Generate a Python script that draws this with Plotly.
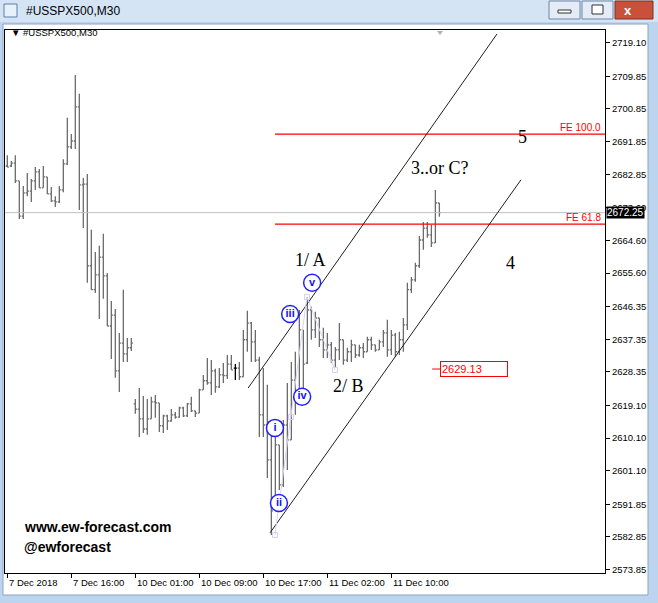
import plotly.graph_objects as go

# ---------------- data ----------------
opens = [2685.1, 2685.1, 2685.9, 2681.0, 2671.3, 2677.7, 2678.2, 2681.0, 2683.5, 2679.1,
         2682.1, 2677.4, 2675.5, 2675.2, 2678.5, 2685.7, 2690.4, 2692.0, 2701.4, 2679.9,
         2680.1, 2657.6, 2651.0, 2655.1, 2660.0, 2654.8, 2641.0, 2644.0, 2628.6, 2636.3,
         2633.3, 2635.0, 2619.5, 2618.1, 2615.4, 2612.6, 2615.4, 2620.1, 2619.8, 2613.5,
         2616.2, 2614.8, 2616.5, 2615.9, 2618.4, 2616.2, 2619.5, 2617.6, 2617.0, 2623.4,
         2625.9, 2625.3, 2628.6, 2624.2, 2627.5, 2627.3, 2630.5, 2629.4, 2629.4, 2627.0,
         2637.2, 2641.8, 2636.6, 2631.6, 2616.5, 2613.7, 2604.1, 2592.0, 2608.2, 2597.2,
         2613.7, 2609.6, 2626.1, 2620.6, 2639.9, 2630.8, 2645.4, 2639.9, 2643.2, 2637.2,
         2634.4, 2635.8, 2631.6, 2634.4, 2637.2, 2631.6, 2633.9, 2635.8, 2633.0, 2635.0,
         2633.9, 2637.2, 2635.8, 2634.4, 2636.6, 2639.1, 2634.4, 2638.5, 2633.9, 2637.2,
         2641.3, 2651.0, 2653.7, 2657.6, 2664.7, 2668.0, 2666.1, 2663.9, 2674.9]
highs = [2688.1, 2686.5, 2688.1, 2681.0, 2679.6, 2683.2, 2681.5, 2684.8, 2684.3, 2685.1,
         2682.1, 2679.3, 2676.8, 2679.6, 2687.0, 2698.4, 2693.9, 2710.2, 2705.0, 2681.8,
         2682.9, 2667.5, 2661.4, 2663.1, 2666.4, 2655.6, 2647.9, 2645.7, 2639.1, 2651.0,
         2637.7, 2637.7, 2620.9, 2623.9, 2621.7, 2620.9, 2621.5, 2622.0, 2619.8, 2616.5,
         2616.5, 2618.1, 2617.3, 2618.7, 2618.7, 2619.8, 2621.5, 2617.6, 2623.7, 2627.5,
         2632.2, 2631.6, 2629.2, 2629.4, 2630.8, 2633.0, 2633.0, 2630.5, 2631.1, 2639.9,
         2645.2, 2642.1, 2639.9, 2632.5, 2629.4, 2624.8, 2614.3, 2611.0, 2608.2, 2615.1,
         2625.3, 2631.1, 2633.9, 2645.4, 2639.9, 2649.0, 2646.3, 2644.9, 2643.2, 2640.5,
         2639.1, 2636.6, 2635.2, 2641.8, 2637.2, 2635.0, 2637.2, 2635.8, 2635.8, 2636.3,
         2638.0, 2638.0, 2635.8, 2637.2, 2639.9, 2642.7, 2639.9, 2639.1, 2639.4, 2643.2,
         2652.9, 2654.5, 2658.4, 2665.8, 2669.7, 2669.7, 2668.9, 2678.5, 2674.9]
lows = [2684.8, 2684.8, 2680.4, 2670.5, 2670.5, 2676.8, 2675.2, 2678.5, 2679.1, 2679.1,
        2677.4, 2675.2, 2673.8, 2674.9, 2677.9, 2685.4, 2689.8, 2689.8, 2673.0, 2668.0,
        2652.9, 2651.0, 2650.1, 2642.9, 2648.5, 2641.0, 2631.9, 2626.7, 2622.8, 2631.1,
        2631.1, 2634.1, 2616.8, 2610.4, 2611.5, 2611.0, 2615.4, 2615.7, 2611.8, 2611.5,
        2612.3, 2614.6, 2615.4, 2615.7, 2615.9, 2615.9, 2617.3, 2615.9, 2617.0, 2623.4,
        2624.8, 2622.0, 2622.6, 2623.9, 2625.3, 2626.4, 2628.9, 2626.1, 2626.1, 2627.0,
        2633.9, 2631.1, 2631.1, 2610.4, 2610.4, 2599.1, 2583.4, 2591.5, 2595.8, 2596.6,
        2601.3, 2609.6, 2616.5, 2620.6, 2623.4, 2630.5, 2637.2, 2637.7, 2635.2, 2632.2,
        2632.2, 2630.8, 2629.7, 2631.6, 2630.3, 2631.1, 2631.1, 2632.2, 2632.5, 2632.2,
        2633.9, 2634.4, 2633.9, 2634.4, 2635.2, 2632.5, 2633.0, 2632.5, 2633.0, 2633.9,
        2639.9, 2650.1, 2653.2, 2657.0, 2662.0, 2665.3, 2662.8, 2663.9, 2671.1]
closes = [2684.8, 2685.9, 2681.0, 2671.3, 2677.7, 2678.2, 2681.0, 2683.5, 2679.1, 2682.1,
          2677.4, 2675.5, 2675.2, 2678.5, 2685.7, 2690.4, 2692.0, 2701.4, 2679.9, 2680.1,
          2657.6, 2651.0, 2655.1, 2660.0, 2654.8, 2641.0, 2644.0, 2628.6, 2636.3, 2633.3,
          2635.0, 2636.3, 2618.1, 2615.4, 2612.6, 2615.4, 2620.1, 2619.8, 2613.5, 2616.2,
          2614.8, 2616.5, 2615.9, 2618.4, 2616.2, 2619.5, 2617.6, 2617.0, 2623.4, 2625.9,
          2625.3, 2628.6, 2624.2, 2627.5, 2627.3, 2630.5, 2628.9, 2629.4, 2627.0, 2637.2,
          2641.8, 2636.6, 2631.6, 2616.5, 2613.7, 2604.1, 2590.0, 2608.2, 2597.2, 2613.7,
          2609.6, 2626.1, 2620.6, 2639.9, 2630.5, 2645.4, 2639.9, 2643.2, 2637.2, 2634.4,
          2635.8, 2631.6, 2634.4, 2637.2, 2631.6, 2633.9, 2635.8, 2633.0, 2635.0, 2633.9,
          2637.2, 2635.8, 2634.4, 2636.6, 2639.1, 2634.4, 2638.5, 2633.9, 2637.2, 2641.3,
          2651.0, 2653.7, 2657.6, 2664.7, 2668.0, 2666.1, 2663.9, 2674.9, 2672.25]
bar_index = list(range(len(opens)))
black_bar = 57  # bar drawn in black

time_tick_index = [0, 16, 32, 48, 64, 80, 96]
time_tick_labels = ["7 Dec 2018", "7 Dec 16:00", "10 Dec 01:00", "10 Dec 09:00",
                    "10 Dec 17:00", "11 Dec 02:00", "11 Dec 10:00"]
price_ticks = [2719.10, 2709.85, 2700.85, 2691.85, 2682.85, 2673.60, 2664.60, 2655.60,
               2646.35, 2637.35, 2628.35, 2619.10, 2610.10, 2601.10, 2591.85, 2582.85, 2573.85]
price_tick_labels = ["%.2f" % v for v in price_ticks]

current_price = 2672.25
fe_levels = [2693.9, 2669.1]
fe_labels = ["FE 100.0", "FE 61.8"]
fe_start = 66.9
label_price = 2629.13
label_start = 106.2

chan_upper_x = [60.2, 122.4]
chan_upper_y = [2623.9, 2721.5]
chan_lower_x = [65.7, 128.4]
chan_lower_y = [2584.0, 2681.3]

wave_path_x = [66.9, 70.9, 74.9, 81.9]
wave_path_y = [2583.4, 2615.9, 2649.0, 2628.9]

sub_labels = ["i", "ii", "iii", "iv", "v"]
sub_x = [66.9, 67.9, 70.7, 73.7, 76.2]
sub_y = [2612.9, 2592.2, 2644.3, 2621.5, 2652.9]

wave_text = ["1/ A", "2/ B", "3..or C?", "4", "5"]
wave_text_x = [75.7, 85.2, 108.2, 125.9, 128.9]
wave_text_y = [2659.2, 2624.5, 2684.6, 2658.4, 2693.1]

# ---------------- figure ----------------
W, H = 658, 603
L, R, T, B = 5, 605, 30, 573
X0, X1 = -0.575, 149.4
Y0, Y1 = 2572.9, 2722.6


def PX(x):
    return (x - L) / (R - L)


def PY(y):
    return (B - y) / (B - T)


fig = go.Figure()

gray = "#6b6b6b"
norm_idx = [i for i in bar_index if i != black_bar]
fig.add_trace(go.Ohlc(
    x=norm_idx,
    open=[opens[i] for i in norm_idx], high=[highs[i] for i in norm_idx],
    low=[lows[i] for i in norm_idx], close=[closes[i] for i in norm_idx],
    increasing=dict(line=dict(color=gray, width=1.3)),
    decreasing=dict(line=dict(color=gray, width=1.3)),
    tickwidth=0.4, hoverinfo="skip", showlegend=False))
fig.add_trace(go.Ohlc(
    x=[black_bar], open=[opens[black_bar]], high=[highs[black_bar]],
    low=[lows[black_bar]], close=[closes[black_bar]],
    increasing=dict(line=dict(color="black", width=1.3)),
    decreasing=dict(line=dict(color="black", width=1.3)),
    tickwidth=0.4, hoverinfo="skip", showlegend=False))

# current price line
fig.add_trace(go.Scatter(x=[X0, X1], y=[current_price, current_price], mode="lines",
                         line=dict(color="#c0c0c0", width=1), hoverinfo="skip", showlegend=False))

# FE lines
for lv in fe_levels:
    fig.add_trace(go.Scatter(x=[fe_start, X1], y=[lv, lv], mode="lines",
                             line=dict(color="#ff0000", width=1.3), hoverinfo="skip", showlegend=False))

# channel lines
for cx, cy in [(chan_upper_x, chan_upper_y), (chan_lower_x, chan_lower_y)]:
    fig.add_trace(go.Scatter(x=cx, y=cy, mode="lines", line=dict(color="#202020", width=1),
                             hoverinfo="skip", showlegend=False))

# wave connector
fig.add_trace(go.Scatter(x=wave_path_x, y=wave_path_y, mode="lines+markers",
                         line=dict(color="#d6d6f2", width=1),
                         marker=dict(symbol="square-open", size=5, color="#d0d0f0"),
                         hoverinfo="skip", showlegend=False))

# price label dash
fig.add_trace(go.Scatter(x=[label_start, label_start + 2], y=[label_price, label_price], mode="lines",
                         line=dict(color="#ff0000", width=1), hoverinfo="skip", showlegend=False))

# sub-wave circles
fig.add_trace(go.Scatter(x=sub_x, y=sub_y, mode="markers+text",
                         text=["<b>%s</b>" % s for s in sub_labels], textposition="middle center",
                         textfont=dict(color="#1010ff", size=11, family="Liberation Sans"),
                         marker=dict(symbol="circle", size=17, color="white",
                                     line=dict(color="#2020ff", width=1.5)),
                         hoverinfo="skip", showlegend=False))

annotations = []
for t, x, y in zip(wave_text, wave_text_x, wave_text_y):
    annotations.append(dict(x=x, y=y, xref="x", yref="y", text=t, showarrow=False,
                            font=dict(family="Liberation Serif", size=18, color="black")))
for t, lv in zip(fe_labels, fe_levels):
    annotations.append(dict(x=PX(603), y=lv, xref="paper", yref="y", text=t, showarrow=False,
                            xanchor="right", yanchor="bottom", yshift=-1,
                            font=dict(family="Liberation Sans", size=10, color="#ff0000")))
annotations.append(dict(x=label_start + 2, y=label_price, xref="x", yref="y",
                        text="2629.13", showarrow=False, xanchor="left", yanchor="middle", align="left",
                        width=64, height=12, borderpad=1,
                        bordercolor="#ff0000", borderwidth=1, bgcolor="white",
                        font=dict(family="Liberation Sans", size=11, color="#ff0000")))
annotations.append(dict(x=PX(606), y=current_price, xref="paper", yref="y",
                        text="2672.25", showarrow=False, xanchor="left", yanchor="middle",
                        bgcolor="black", borderpad=0,
                        font=dict(family="Liberation Sans", size=10, color="white")))
for idx, lab in zip(time_tick_index, time_tick_labels):
    annotations.append(dict(x=idx, y=PY(582), xref="x", yref="paper", text=lab,
                            showarrow=False, xanchor="left", yanchor="middle", xshift=0,
                            font=dict(family="Liberation Sans", size=9.5, color="black")))
annotations.append(dict(x=PX(22), y=PY(527), xref="paper", yref="paper",
                        text="<b>www.ew-forecast.com</b>", showarrow=False,
                        xanchor="left", yanchor="middle",
                        font=dict(family="Liberation Sans", size=14, color="black")))
annotations.append(dict(x=PX(22), y=PY(547), xref="paper", yref="paper",
                        text="<b>@ewforecast</b>", showarrow=False,
                        xanchor="left", yanchor="middle",
                        font=dict(family="Liberation Sans", size=14, color="black")))
annotations.append(dict(x=PX(9), y=PY(33), xref="paper", yref="paper",
                        text="▼ #USSPX500,M30", showarrow=False,
                        xanchor="left", yanchor="middle",
                        font=dict(family="Liberation Sans", size=9.5, color="black")))
# window title
annotations.append(dict(x=PX(24), y=PY(11), xref="paper", yref="paper",
                        text="#USSPX500,M30", showarrow=False,
                        xanchor="left", yanchor="middle",
                        font=dict(family="Liberation Sans", size=12, color="black")))
annotations.append(dict(x=PX(634), y=PY(10), xref="paper", yref="paper",
                        text="<b>x</b>", showarrow=False, yanchor="middle",
                        font=dict(family="Liberation Sans", size=13, color="white")))

shapes = []
# window chrome
shapes.append(dict(type="rect", xref="paper", yref="paper", x0=PX(0), x1=PX(658), y0=PY(603), y1=PY(0),
                   fillcolor="#bcd4ee", line=dict(width=0), layer="below"))
shapes.append(dict(type="rect", xref="paper", yref="paper", x0=PX(0), x1=PX(658), y0=PY(22), y1=PY(0),
                   fillcolor="#d4e4f5", line=dict(width=0), layer="below"))
shapes.append(dict(type="rect", xref="paper", yref="paper", x0=PX(3), x1=PX(648), y0=PY(595), y1=PY(24),
                   fillcolor="white", line=dict(color="#8aa4c4", width=1), layer="below"))
shapes.append(dict(type="rect", xref="paper", yref="paper", x0=PX(4), x1=PX(17), y0=PY(17), y1=PY(4),
                   fillcolor="#e8f0fa", line=dict(color="#5a7fb0", width=1), layer="below"))
# buttons
shapes.append(dict(type="rect", xref="paper", yref="paper", x0=PX(549), x1=PX(580), y0=PY(19), y1=PY(1),
                   fillcolor="#e3ecf7", line=dict(color="#6f86a6", width=1), layer="below"))
shapes.append(dict(type="rect", xref="paper", yref="paper", x0=PX(558), x1=PX(571), y0=PY(13), y1=PY(10),
                   fillcolor="#ffffff", line=dict(color="#333", width=1), layer="below"))
shapes.append(dict(type="rect", xref="paper", yref="paper", x0=PX(582), x1=PX(613), y0=PY(19), y1=PY(1),
                   fillcolor="#e3ecf7", line=dict(color="#6f86a6", width=1), layer="below"))
shapes.append(dict(type="rect", xref="paper", yref="paper", x0=PX(592), x1=PX(603), y0=PY(14), y1=PY(5),
                   fillcolor="#ffffff", line=dict(color="#333", width=1), layer="below"))
shapes.append(dict(type="rect", xref="paper", yref="paper", x0=PX(615), x1=PX(653), y0=PY(19), y1=PY(1),
                   fillcolor="#c9503a", line=dict(color="#7a3020", width=1), layer="below"))
# shift triangle
shapes.append(dict(type="path", xref="paper", yref="paper",
                   path="M %f,%f L %f,%f L %f,%f Z" % (PX(437), PY(31), PX(443), PY(31), PX(440), PY(35)),
                   fillcolor="#b0b0b0", line=dict(width=0)))

fig.update_layout(
    width=W, height=H, autosize=False,
    margin=dict(l=L, r=W - R, t=T, b=H - B, pad=0),
    paper_bgcolor="white", plot_bgcolor="white",
    hovermode=False, showlegend=False,
    shapes=shapes, annotations=annotations,
    xaxis=dict(range=[X0, X1], showgrid=False, zeroline=False, rangeslider=dict(visible=False),
               tickvals=time_tick_index, showticklabels=False, ticks="outside", ticklen=4,
               tickcolor="black", showline=True, linecolor="black", linewidth=1, mirror=True),
    yaxis=dict(range=[Y0, Y1], side="right", showgrid=False, zeroline=False,
               tickvals=price_ticks, ticktext=price_tick_labels, ticks="outside", ticklen=4,
               tickcolor="black", showline=True, linecolor="black", linewidth=1, mirror=True,
               tickfont=dict(family="Liberation Sans", size=9.5, color="black")),
)

fig.write_html("out.html", config={"displayModeBar": False},
               post_script="document.body.style.margin='0';document.body.style.overflow='hidden';")
